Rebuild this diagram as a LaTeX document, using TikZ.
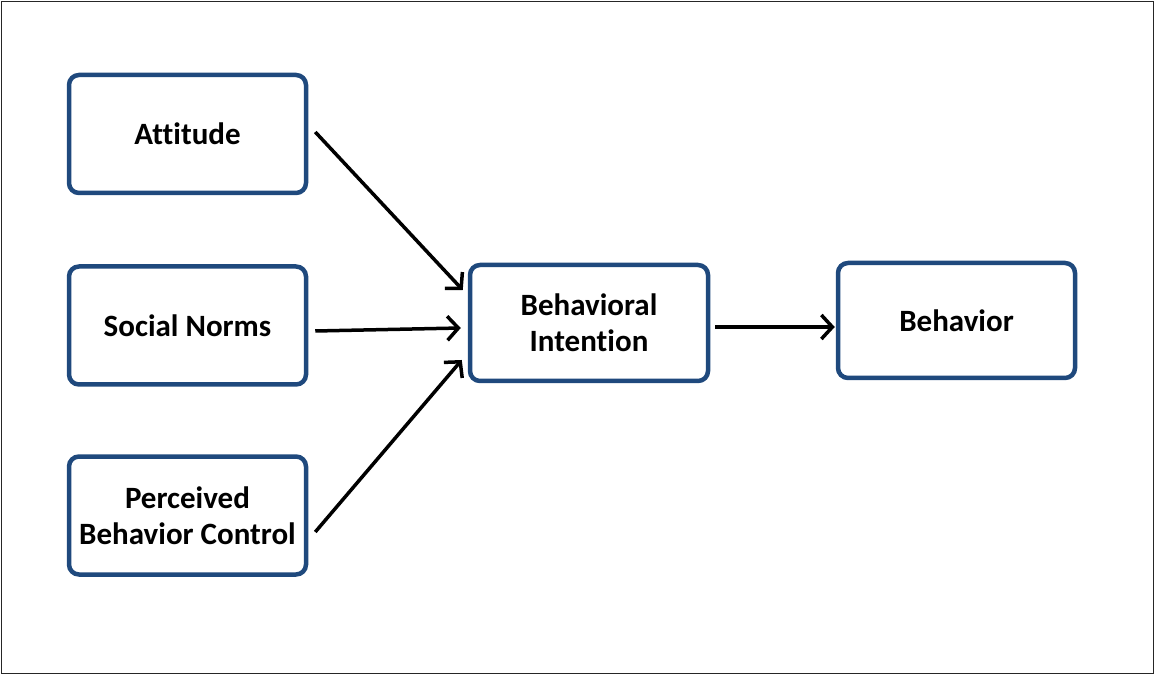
\documentclass[tikz,border=0pt]{standalone}
\usepackage{fontspec}
\setmainfont[Ligatures={NoCommon}]{Carlito}
\usepackage{xcolor}
\usetikzlibrary{arrows.meta}
\definecolor{boxblue}{RGB}{31,73,125}

\begin{document}
\begin{tikzpicture}[x=1pt, y=1pt,
		every node/.style={rounded corners=10pt, draw=boxblue, line width=4.5pt, fill=white, minimum width=237pt, minimum height=118pt, inner sep=0pt, align=center, font=\fontsize{31}{36}\selectfont\bfseries},
		arr/.style={line width=3.5pt, -{Straight Barb[length=11pt, width=24pt, line width=3.5pt]}}]
		\useasboundingbox (0,0) rectangle (1155,675);
		\draw[line width=1.5pt, black!85] (1.5,1.5) rectangle (1153.5,673.5);
		\node(att) at (187.5,541){Attitude};
		\node(sn) at (187.5,349.5){Social Norms};
		\node(pbc) at (187.5,159.5){Perceived\\Behavior Control};
		\node(bi) at (589,352)[minimum width=238pt, minimum height=116pt]{Behavioral\\Intention};
		\node(beh) at (956.5,354.5)[minimum height=115pt]{Behavior};
		\draw[arr] ([xshift=7pt, yshift=2pt]att.east) -- ([xshift=-5pt, yshift=33pt]bi.west);
		\draw[arr] ([xshift=7pt, yshift=-5.5pt]sn.east) -- ([xshift=-7pt, yshift=-5pt]bi.west);
		\draw[arr] ([xshift=7pt, yshift=-16.5pt]pbc.east) -- ([xshift=-6pt, yshift=-37pt]bi.west);
		\draw[arr] ([xshift=5pt, yshift=-4pt]bi.east) -- ([xshift=-1pt, yshift=-6.5pt]beh.west);
	\end{tikzpicture}
\end{document}
